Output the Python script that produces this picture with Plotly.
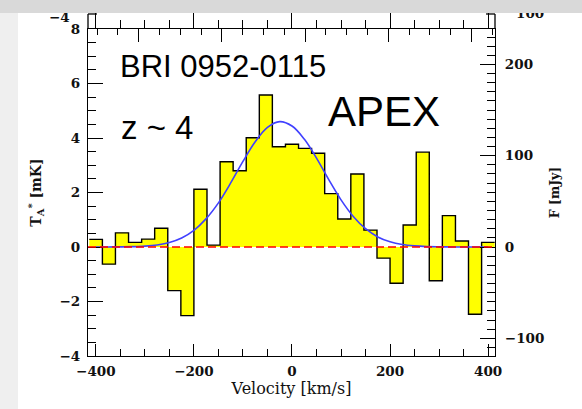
import numpy as np
import plotly.graph_objects as go

# ---- data ----
velocity = [-400.0, -373.3, -346.7, -320.0, -293.3, -266.7, -240.0, -213.3, -186.7, -160.0,
            -133.3, -106.7, -80.0, -53.3, -26.7, 0.0, 26.7, 53.3, 80.0, 106.7,
            133.3, 160.0, 186.7, 213.3, 240.0, 266.7, 293.3, 320.0, 346.7, 373.3, 400.0]
ta_mk = [0.28, -0.63, 0.52, 0.17, 0.29, 0.69, -1.60, -2.52, 2.12, 0.07,
         3.13, 2.80, 4.01, 5.58, 3.68, 3.77, 3.62, 3.44, 1.96, 1.03,
         2.68, 0.62, -0.41, -1.33, 0.81, 3.48, -1.24, 1.15, 0.22, -2.47, 0.17]
bin_width = 80 / 3

fit_velocity = [-400, -375, -350, -325, -300, -275, -250, -225, -200, -175, -150,
                -125, -100, -75, -50, -25, 0, 25, 50, 75, 100, 125, 150, 175,
                200, 225, 250, 275, 300, 325, 350, 375, 400]
fit_ta = [0.000, 0.002, 0.005, 0.013, 0.032, 0.076, 0.165, 0.33, 0.61, 1.04, 1.62,
          2.35, 3.14, 3.86, 4.39, 4.60, 4.44, 3.96, 3.26, 2.47, 1.73, 1.12, 0.67, 0.37,
          0.19, 0.09, 0.04, 0.015, 0.006, 0.002, 0.001, 0.000, 0.000]

x_range = [-416, 414]
ta_range = [-4, 8]
flux_range = [-119.4, 238.8]
top_range = [-18.44, 1.125]

labels = ["BRI 0952-0115", "z ~ 4", "APEX"]
neighbour_labels = ["\u22124", "100"]

# step edges derived from bin centres
v = np.array(velocity)
edges = np.append(v - bin_width / 2, v[-1] + bin_width / 2)
step_y = ta_mk + [ta_mk[-1]]

serif = "DejaVu Serif"
ink = "#111111"
tickfont = dict(family=serif, size=13.5, color=ink, weight="bold")

fig = go.Figure()
fig.add_trace(go.Scatter(x=edges, y=step_y, mode="lines",
                         line=dict(shape="hv", color="black", width=1.4),
                         fill="tozeroy", fillcolor="#ffff00",
                         hoverinfo="skip", showlegend=False))
fig.add_trace(go.Scatter(x=fit_velocity, y=fit_ta, mode="lines",
                         line=dict(color="#4040ff", width=1.6, shape="spline"),
                         hoverinfo="skip", showlegend=False))
# invisible helpers so that the secondary axes get drawn
fig.add_trace(go.Scatter(x=x_range, y=flux_range, xaxis="x", yaxis="y2", mode="markers",
                         marker=dict(opacity=0), hoverinfo="skip", showlegend=False))
fig.add_trace(go.Scatter(x=top_range, y=ta_range, xaxis="x2", yaxis="y", mode="markers",
                         marker=dict(opacity=0), hoverinfo="skip", showlegend=False))
fig.add_trace(go.Scatter(x=x_range, y=ta_range, xaxis="x3", yaxis="y", mode="markers",
                         marker=dict(opacity=0), hoverinfo="skip", showlegend=False))

tick_common = dict(tickwidth=1.3, tickcolor="black")
fig.update_layout(
    width=582, height=409,
    margin=dict(l=88, r=87, t=29, b=53, autoexpand=False),
    paper_bgcolor="white", plot_bgcolor="white",
    showlegend=False, hovermode=False,
    xaxis=dict(range=x_range, showgrid=False, zeroline=False, automargin=False,
               showline=True, linecolor="black", linewidth=1.3, mirror=True,
               ticks="inside", tick0=0, dtick=200, ticklen=12, **tick_common,
               minor=dict(ticks="inside", dtick=50, ticklen=6.5, **tick_common),
               tickfont=tickfont, ticklabelstandoff=3,
               title=dict(text="Velocity [km/s]", font=dict(family=serif, size=16, color=ink),
                          standoff=4)),
    xaxis2=dict(overlaying="x", side="top", anchor="y", range=top_range, automargin=False,
                showgrid=False, zeroline=False, showline=False, showticklabels=False,
                ticks="inside", tick0=0, dtick=4, ticklen=12.5, **tick_common,
                minor=dict(ticks="inside", dtick=1, ticklen=6, **tick_common)),
    xaxis3=dict(overlaying="x", side="top", anchor="y", range=x_range, automargin=False,
                showgrid=False, zeroline=False, showline=False, showticklabels=False,
                ticks="outside", tick0=0, dtick=200, ticklen=15, **tick_common,
                minor=dict(ticks="outside", dtick=50, ticklen=8.3, **tick_common)),
    yaxis=dict(range=ta_range, showgrid=False, zeroline=False, automargin=False,
               showline=True, linecolor="black", linewidth=1.3,
               ticks="inside", tick0=0, dtick=2, ticklen=15, **tick_common,
               minor=dict(ticks="inside", dtick=0.5, ticklen=7.7, **tick_common),
               tickfont=tickfont, ticklabelstandoff=4,
               title=dict(text="T<sub>A</sub><sup>*</sup> [mK]",
                          font=dict(family=serif, size=14, color=ink, weight="bold"),
                          standoff=14)),
    yaxis2=dict(overlaying="y", side="right", anchor="x", range=flux_range, automargin=False,
                showgrid=False, zeroline=False,
                showline=True, linecolor="black", linewidth=1.3,
                ticks="inside", tick0=0, dtick=100, ticklen=15, **tick_common,
                minor=dict(ticks="inside", dtick=10, ticklen=8, **tick_common),
                tickfont=tickfont, ticklabelstandoff=6,
                title=dict(text="F [mJy]",
                           font=dict(family=serif, size=12.5, color=ink, weight="bold"),
                           standoff=6)),
)

# zero reference line (red dashed)
fig.add_shape(type="line", xref="paper", x0=0, x1=1, yref="y", y0=0, y1=0,
              line=dict(color="#ff0000", width=1.5, dash="8px,4px"), layer="above")
# axis continuation of the neighbouring panel above
for xp in (0, 1):
    fig.add_shape(type="line", xref="paper", yref="paper", x0=xp, x1=xp, y0=1, y1=1.0459,
                  line=dict(color="black", width=1.3), layer="above")
fig.add_shape(type="line", xref="paper", yref="paper", x0=0, x1=0.022, y0=1.0459, y1=1.0459,
              line=dict(color="black", width=1.3), layer="above")
fig.add_shape(type="line", xref="paper", yref="paper", x0=0.978, x1=1, y0=1.0459, y1=1.0459,
              line=dict(color="black", width=1.3), layer="above")
# light grey left border of the screenshot
fig.add_shape(type="rect", xref="paper", yref="paper", x0=-0.3, x1=-0.172, y0=-0.3, y1=1.052,
              fillcolor="#efefef", line=dict(width=0), layer="above")

ann_font = dict(family="Liberation Sans", color="black")
fig.add_annotation(x=-355, y=6.64, xref="x", yref="y", text=labels[0], showarrow=False,
                   xanchor="left", yanchor="middle", font=dict(size=31, **ann_font))
fig.add_annotation(x=-353, y=4.39, xref="x", yref="y", text=labels[1], showarrow=False,
                   xanchor="left", yanchor="middle", font=dict(size=33, **ann_font))
fig.add_annotation(x=68.8, y=4.99, xref="x", yref="y", text=labels[2], showarrow=False,
                   xanchor="left", yanchor="middle", font=dict(size=42, **ann_font))

# tick labels of the cropped panel above (partly hidden under the grey band)
fig.add_annotation(x=-0.04, y=1.038, xref="paper", yref="paper", text=neighbour_labels[0],
                   showarrow=False, xanchor="right", yanchor="middle",
                   font=dict(family=serif, size=13.5, color=ink, weight="bold"))
fig.add_annotation(x=1.047, y=1.049, xref="paper", yref="paper", text=neighbour_labels[1],
                   showarrow=False, xanchor="left", yanchor="middle",
                   font=dict(family=serif, size=13.5, color=ink, weight="bold"))
# grey top band of the screenshot (drawn last so it covers the labels above)
fig.add_annotation(x=0.4988, y=1.0703, xref="paper", yref="paper", text=" ",
                   showarrow=False, xanchor="center", yanchor="middle",
                   width=620, height=12.5, bgcolor="#d9d9d9", borderpad=0, borderwidth=0)

fig.write_html("out.html", config={"displayModeBar": False},
               post_script="document.body.style.margin='0';")
